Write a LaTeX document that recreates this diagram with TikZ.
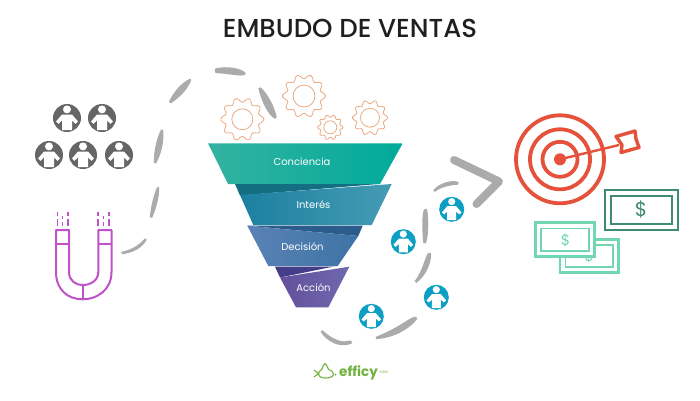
\documentclass[tikz,border=0pt]{standalone}
\usepackage{fontspec}
\setmainfont{Poppins}
\newfontfamily\titlefont{Poppins Medium}
\usetikzlibrary{calc}
\definecolor{dashgray}{HTML}{ABABAB}
\definecolor{persongray}{HTML}{666666}
\definecolor{personblue}{HTML}{0B9FC4}
\definecolor{magnetc}{HTML}{C052C9}
\definecolor{gearc}{HTML}{EBAA82}
\definecolor{targetc}{HTML}{E5513B}
\definecolor{moneydark}{HTML}{3F8C72}
\definecolor{moneylight}{HTML}{70D7B0}
\definecolor{logoc}{HTML}{6FB23F}
\definecolor{fa}{RGB}{52,178,160}
\definecolor{fb}{RGB}{0,170,155}
\definecolor{fc}{RGB}{20,110,130}
\definecolor{fd}{RGB}{28,128,160}
\definecolor{fe}{RGB}{70,155,180}
\definecolor{ff}{RGB}{44,92,140}
\definecolor{fg}{RGB}{90,130,182}
\definecolor{fh}{RGB}{62,115,165}
\definecolor{fi}{RGB}{68,62,136}
\definecolor{fj}{RGB}{100,80,155}
\definecolor{fk}{RGB}{110,105,175}
\tikzset{
  x=1pt,y=-1pt,
  graydash/.style={fill=dashgray,draw=dashgray,line width=2.4pt,line join=round},
  magline/.style={draw=magnetc,line width=2pt},
  gearline/.style={draw=gearc,line width=0.8pt},
  funnellabel/.style={text=white,font=\fontsize{10}{12}\selectfont},
  ringline/.style={draw=targetc,line width=3.8pt},
}
% centre x, y, radius, colour
\newcommand{\personicon}[4]{%
  \begin{scope}[shift={(#1,#2)},x=#3/14*1pt,y=-#3/14*1pt]
    \fill[#4] (0,0) circle[x radius=14,y radius=14];
    \fill[white] (0,-8.6) circle[x radius=4,y radius=4];
    \fill[white,line join=round] (-5,-3.5) -- (5,-3.5) -- (11,3.5) -- (8.5,5.8) -- (5,2.5) -- (5,12) -- (-5,12) -- (-5,2.5) -- (-8.5,5.8) -- (-11,3.5) -- cycle;
  \end{scope}}
% centre x, y, outer radius, inner radius, teeth
\newcommand{\gearicon}[5]{%
  \draw[gearline,shift={(#1,#2)}] plot[smooth cycle,samples=#5*6+1,domain=0:360*(1-1/(#5*6))]
     ({(#3*0.90+#3*0.11*cos(#5*\x))*cos(\x)},{(#3*0.90+#3*0.11*cos(#5*\x))*sin(\x)});
  \draw[gearline] (#1,#2) circle[radius=#4*1pt];}
\begin{document}
\begin{tikzpicture}
\useasboundingbox (0,0) rectangle (700,400);
\fill[white] (0,0) rectangle (700,400);

\node[font=\titlefont\fontsize{26}{30}\selectfont,text=black!88] (title) at (350,28.5) {EMBUDO DE VENTAS};

% left curve dashes
\path[graydash] (121.5,253) .. controls (133,252) and (142,246) .. (145.5,239.5) .. controls (140,246) and (132,251) .. (121.5,253);
\path[graydash] (151,217.5) .. controls (152,206) and (155,195) .. (158,188) .. controls (158,198) and (155,208) .. (151,217.5);
\path[graydash] (155,163) .. controls (155,150) and (158,138) .. (162,130.5) .. controls (163,142) and (160,154) .. (155,163);
\path[graydash] (170,102.5) .. controls (174,93) and (182,84) .. (190,80) .. controls (186,90) and (178,97) .. (170,102.5);
\path[graydash] (216,69.5) .. controls (226,67) and (240,69) .. (244.5,73.5) .. controls (243,76) and (226,72) .. (216,72) -- cycle;
\path[graydash] (259.5,88) .. controls (266,93) and (274,108) .. (275.5,117.5) .. controls (270,116) and (262,100) .. (259.5,88);

% gears
\gearicon{242.3}{119.3}{21.5}{10.5}{10}
\gearicon{304}{96}{21.5}{11}{10}
\gearicon{330.3}{127.3}{12.5}{6.5}{10}
\gearicon{370}{117.7}{17.5}{9.5}{10}

% funnel
\shade[left color=fa,right color=fb] (208,143.3) -- (402.7,143.3) -- (380,184) -- (228,184) -- cycle;
\fill[fc] (235,184) -- (378,184) -- (240,195.5) -- cycle;
\shade[left color=fd,right color=fe] (240,195) -- (391.7,184) -- (371.7,225) -- (253.3,225) -- cycle;
\fill[ff] (247.3,225.7) -- (362.7,225.7) -- (358.3,236) -- cycle;
\shade[left color=fg,right color=fh] (247.3,225.7) -- (358.3,236) -- (337.7,266) -- (268.3,266) -- cycle;
\fill[fi] (275,266.7) -- (333,266.7) -- (280,277.5) -- cycle;
\shade[left color=fj,right color=fk] (280,277.5) -- (349.3,266.7) -- (328.3,307.3) -- (296,307.3) -- cycle;
\node[funnellabel] (l1) at (302,161.5) {Conciencia};
\node[funnellabel] (l2) at (313.5,205) {Interés};
\node[funnellabel] (l3) at (302.5,247) {Decisión};
\node[funnellabel] (l4) at (313.5,288) {Acción};

% gray people
\personicon{67}{118}{14}{persongray}
\personicon{102}{118}{14}{persongray}
\personicon{49}{155}{14}{persongray}
\personicon{83}{155}{14}{persongray}
\personicon{119}{155}{14}{persongray}

% magnet
\draw[magline,line join=round] (56,230) -- (69,230) -- (69,272) .. controls (69,281) and (76,285) .. (82.7,285) .. controls (90,285) and (98.3,281) .. (98.3,272) -- (98.3,230) -- (111.5,230) -- (111.5,272) .. controls (111.5,290) and (97,299.3) .. (82.7,299.3) .. controls (68,299.3) and (56,290) .. (56,272) -- cycle;
\draw[magline] (56,243.5) -- (69,243.5) (98.3,243.5) -- (111.5,243.5) (82.7,285) -- (82.7,299.3);
\foreach \xx in {57.5,68,98,109}{
  \draw[magnetc,line width=1.7pt] (\xx,212) -- (\xx,215.5) (\xx,219) -- (\xx,226);}
\foreach \xx in {62.5,103.5}{
  \draw[magnetc,line width=1.3pt] (\xx,216) -- (\xx,219) (\xx,222) -- (\xx,226);}

% right curve dashes
\path[graydash] (321.5,331) .. controls (328,341) and (340,347) .. (351,342.5) .. controls (351,340) and (346,344) .. (340,342) .. controls (332,340) and (326,335) .. (321.5,331);
\path[graydash] (376,338) .. controls (392,337) and (408,329) .. (416,318.5) .. controls (414,315) and (402,328) .. (376,338);
\path[graydash] (415.5,282) .. controls (424,276) and (430,264) .. (430,254) .. controls (427,252) and (425,270) .. (415.5,282);
\path[graydash] (424.5,243) .. controls (427,240) and (428,220) .. (426,210) .. controls (423,208) and (423,230) .. (424.5,243);
\path[graydash] (434,191) .. controls (440,186) and (450,184) .. (457.5,183.5) .. controls (459,182) and (444,180) .. (434,191);
\draw[dashgray,line width=8pt,line join=round,line cap=round] (454,160) -- (499,181.5) -- (476.5,204);

% blue people
\personicon{451.7}{209.3}{12.5}{personblue}
\personicon{403.3}{241.7}{12.5}{personblue}
\personicon{436.3}{297.3}{12.5}{personblue}
\personicon{371.3}{316.3}{12.5}{personblue}

% target
\draw[ringline] (560,159.3) circle[radius=44pt];
\draw[ringline] (560,159.3) circle[radius=30pt];
\draw[ringline] (560,159.3) circle[radius=17.5pt];
\fill[targetc] (560,159.3) circle[radius=6pt];
\draw[targetc,line width=2.4pt] (560,159.3) -- (619,145);
\draw[targetc,line width=3.4pt,line join=round,fill=white] (616,136.5) -- (635,131) -- (636,139) -- (639,147.5) -- (621,152.5) -- (622,145) -- cycle;

% money
\draw[moneylight,line width=2.6pt,fill=white] (560,239.5) rectangle (618.3,272.7);
\draw[moneylight,line width=1.8pt] (565.5,245) rectangle (612.7,267.3);
\node[text=moneylight,font=\fontsize{15}{18}\selectfont] (d3) at (589,256) {\$};
\draw[moneylight,line width=2.6pt,fill=white] (535.7,222.7) rectangle (594.3,256.7);
\draw[moneylight,line width=1.8pt] (541,228.5) rectangle (589.3,251);
\node[text=moneylight,font=\fontsize{15}{18}\selectfont] (d2) at (565.5,240) {\$};
\draw[moneydark,line width=2pt] (605,189.5) rectangle (678,229.5);
\draw[moneydark,line width=2pt] (611,196) rectangle (672,223.5);
\node[text=moneydark,font=\fontsize{20}{24}\selectfont] (d1) at (641,209.5) {\$};

% logo
\draw[logoc,line width=1.1pt,line join=round] (318.5,373.5) .. controls (319,371) and (321,370) .. (322,369.5) .. controls (322.5,367) and (323.5,364) .. (325,363.5) .. controls (326.5,364) and (327.5,367) .. (328.5,369.5) .. controls (331,370) and (333.5,372) .. (333.5,374) .. controls (333.5,377) and (329,378) .. (325.5,378) .. controls (322,378) and (318.5,377) .. (318.5,373.5) -- cycle;
\draw[logoc,line width=1.1pt] (314,370) -- (318.5,373.5) -- (314,377);
\fill[logoc] (335.5,374.5) circle[radius=1pt];
\node[text=logoc,font=\bfseries\fontsize{13.5}{16}\selectfont,anchor=west,inner sep=0pt] (logo) at (339,373) {efficy};
\node[text=logoc!60,font=\bfseries\fontsize{3.5}{4}\selectfont,anchor=west,inner sep=0pt] (crm) at (379.5,372) {CRM};
\end{tikzpicture}
\end{document}
